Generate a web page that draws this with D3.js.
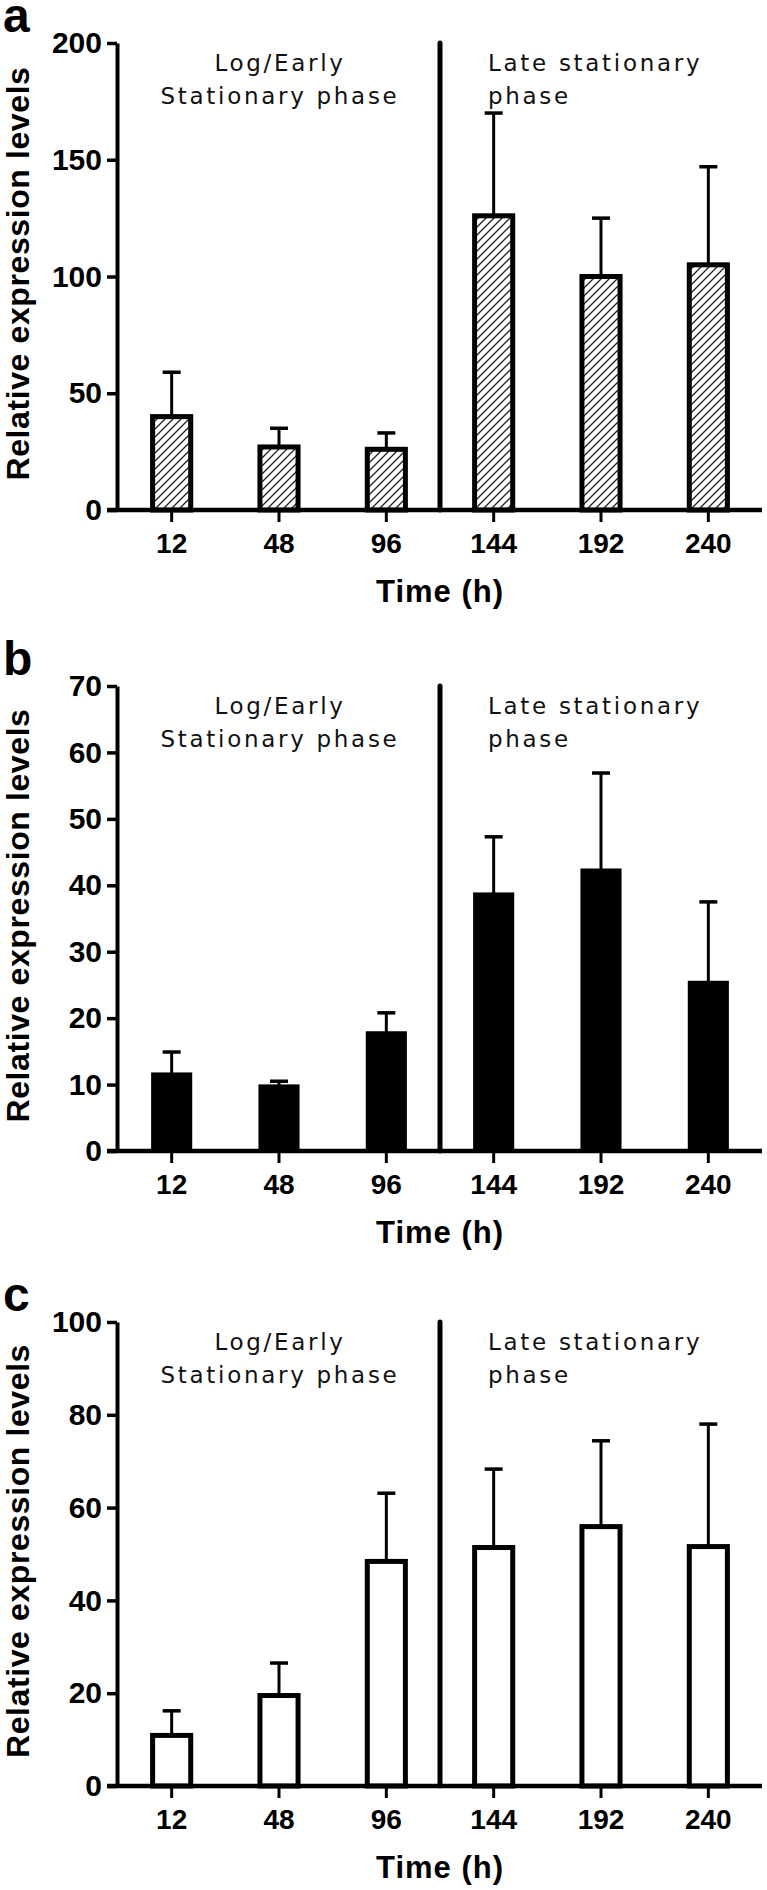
<!DOCTYPE html>
<html>
<head>
<meta charset="utf-8">
<script src="https://cdn.jsdelivr.net/npm/d3@7"></script>
<style>
  html, body { margin: 0; padding: 0; background: #fff; }
  svg { display: block; }
</style>
</head>
<body>
<script>
// ---------------- data ----------------
const categories = ["12", "48", "96", "144", "192", "240"];

const meanA = [40, 27, 26, 126, 100, 105];
const sdA   = [19, 8, 7, 44, 25, 42];

const meanB = [11.6, 9.8, 17.8, 38.7, 42.3, 25.4];
const sdB   = [3.3, 0.7, 3.0, 8.6, 14.6, 12.1];

const meanC = [10.9, 19.5, 48.4, 51.4, 55.9, 51.6];
const sdC   = [5.3, 7.0, 14.7, 16.9, 18.5, 26.4];

const ticksA = [0, 50, 100, 150, 200];
const ticksB = [0, 10, 20, 30, 40, 50, 60, 70];
const ticksC = [0, 20, 40, 60, 80, 100];

const panelLetters = ["a", "b", "c"];
const phaseLeft  = ["Log/Early", "Stationary phase"];
const phaseRight = ["Late stationary", "phase"];
const xTitle = "Time (h)";
const yTitle = "Relative expression levels";

// ---------------- layout ----------------
const W = 767, H = 1890;
const AXIS_X = 117;
const boldFont = "'Liberation Sans', Arial, Helvetica, sans-serif";
const phaseFont = "'DejaVu Sans', Verdana, sans-serif";

const panels = [
  { letter: panelLetters[0], mean: meanA, sd: sdA, ticks: ticksA, top: 43,   bottom: 510,  style: "hatch" },
  { letter: panelLetters[1], mean: meanB, sd: sdB, ticks: ticksB, top: 686,  bottom: 1151, style: "solid" },
  { letter: panelLetters[2], mean: meanC, sd: sdC, ticks: ticksC, top: 1322, bottom: 1786, style: "open" }
];

const svg = d3.select("body").append("svg")
  .attr("width", W).attr("height", H)
  .attr("viewBox", `0 0 ${W} ${H}`);

// hatch pattern
const pat = svg.append("defs").append("pattern")
  .attr("id", "hatch")
  .attr("patternUnits", "userSpaceOnUse")
  .attr("width", 8).attr("height", 8);
pat.append("rect").attr("width", 8).attr("height", 8).attr("fill", "#fff");
pat.append("path")
  .attr("d", "M-2,2 L2,-2 M0,8 L8,0 M6,10 L10,6")
  .attr("stroke", "#222").attr("stroke-width", 1.3);

const x = d3.scaleBand()
  .domain(categories)
  .range([118, 762])
  .paddingInner(0.645)
  .paddingOuter(0.3225);

const bw = x.bandwidth();
const cx = c => x(c) + bw / 2;

panels.forEach(p => {
  const maxV = p.ticks[p.ticks.length - 1];
  const y = d3.scaleLinear().domain([0, maxV]).range([p.bottom, p.top]);
  const g = svg.append("g");
  const data = categories.map((c, i) => ({ c, m: p.mean[i], s: p.sd[i] }));

  // panel letter
  g.append("text")
    .attr("x", 3).attr("y", p.top - 11)
    .attr("font-family", boldFont).attr("font-weight", "bold")
    .attr("font-size", 48).attr("fill", "#000")
    .text(p.letter);

  // y title
  g.append("text")
    .attr("transform", `translate(29,${(p.top + p.bottom) / 2 - 3}) rotate(-90)`)
    .attr("text-anchor", "middle")
    .attr("font-family", boldFont).attr("font-weight", "bold")
    .attr("font-size", 32).attr("letter-spacing", 0.6).attr("fill", "#000")
    .text(yTitle);

  // error bars
  const eb = g.append("g").attr("stroke", "#000");
  eb.selectAll("line.v").data(data).join("line")
    .attr("class", "v")
    .attr("x1", d => cx(d.c)).attr("x2", d => cx(d.c))
    .attr("y1", d => y(d.m)).attr("y2", d => y(d.m + d.s))
    .attr("stroke-width", 3);
  eb.selectAll("line.cap").data(data).join("line")
    .attr("class", "cap")
    .attr("x1", d => cx(d.c) - 9).attr("x2", d => cx(d.c) + 9)
    .attr("y1", d => y(d.m + d.s)).attr("y2", d => y(d.m + d.s))
    .attr("stroke-width", 3.5);

  // bars
  g.append("g").selectAll("rect").data(data).join("rect")
    .attr("x", d => x(d.c))
    .attr("width", bw)
    .attr("y", d => y(d.m))
    .attr("height", d => y(0) - y(d.m))
    .attr("fill", p.style === "hatch" ? "url(#hatch)" : (p.style === "solid" ? "#000" : "#fff"))
    .attr("stroke", "#000")
    .attr("stroke-width", p.style === "solid" ? 3 : 5);

  // divider between phases
  const xd = (cx("96") + cx("144")) / 2;
  g.append("line")
    .attr("x1", xd).attr("x2", xd)
    .attr("y1", y(maxV)).attr("y2", y(0))
    .attr("stroke", "#000").attr("stroke-width", 5)
    .attr("stroke-linecap", "round");

  // phase labels
  const tl = g.append("text")
    .attr("font-family", phaseFont).attr("font-size", 23)
    .attr("letter-spacing", 2.7).attr("fill", "#111")
    .attr("text-anchor", "middle");
  phaseLeft.forEach((t, i) => tl.append("tspan").attr("x", 280).attr("y", p.top + 28 + i * 33).text(t));
  const tr = g.append("text")
    .attr("font-family", phaseFont).attr("font-size", 23)
    .attr("letter-spacing", 2.7).attr("fill", "#111");
  phaseRight.forEach((t, i) => tr.append("tspan").attr("x", 488).attr("y", p.top + 28 + i * 33).text(t));

  // y axis
  g.append("g")
    .attr("transform", `translate(${AXIS_X},0)`)
    .call(d3.axisLeft(y).tickValues(p.ticks).tickSize(10).tickSizeOuter(0).tickPadding(5))
    .call(s => {
      s.attr("font-family", boldFont).attr("font-size", 30).attr("font-weight", "bold");
      s.select(".domain").attr("stroke-width", 4).attr("stroke", "#000");
      s.selectAll(".tick line").attr("stroke-width", 3.5).attr("stroke", "#000");
      s.selectAll(".tick text").attr("fill", "#000");
    });

  // x axis (ticks + labels)
  g.append("g")
    .attr("transform", `translate(0,${p.bottom})`)
    .call(d3.axisBottom(x).tickSize(12).tickSizeOuter(0).tickPadding(11))
    .call(s => {
      s.attr("font-family", boldFont).attr("font-size", 28).attr("font-weight", "bold");
      s.select(".domain").remove();
      s.selectAll(".tick line").attr("stroke-width", 3).attr("stroke", "#000");
      s.selectAll(".tick text").attr("fill", "#000");
    });

  // x axis baseline
  g.append("line")
    .attr("x1", 107).attr("x2", 762)
    .attr("y1", y(0)).attr("y2", y(0))
    .attr("stroke", "#000").attr("stroke-width", 4.5);

  // x title
  g.append("text")
    .attr("x", 440).attr("y", p.bottom + 92)
    .attr("text-anchor", "middle")
    .attr("font-family", boldFont).attr("font-weight", "bold")
    .attr("font-size", 31).attr("letter-spacing", 1).attr("fill", "#000")
    .text(xTitle);
});
</script>
</body>
</html>
